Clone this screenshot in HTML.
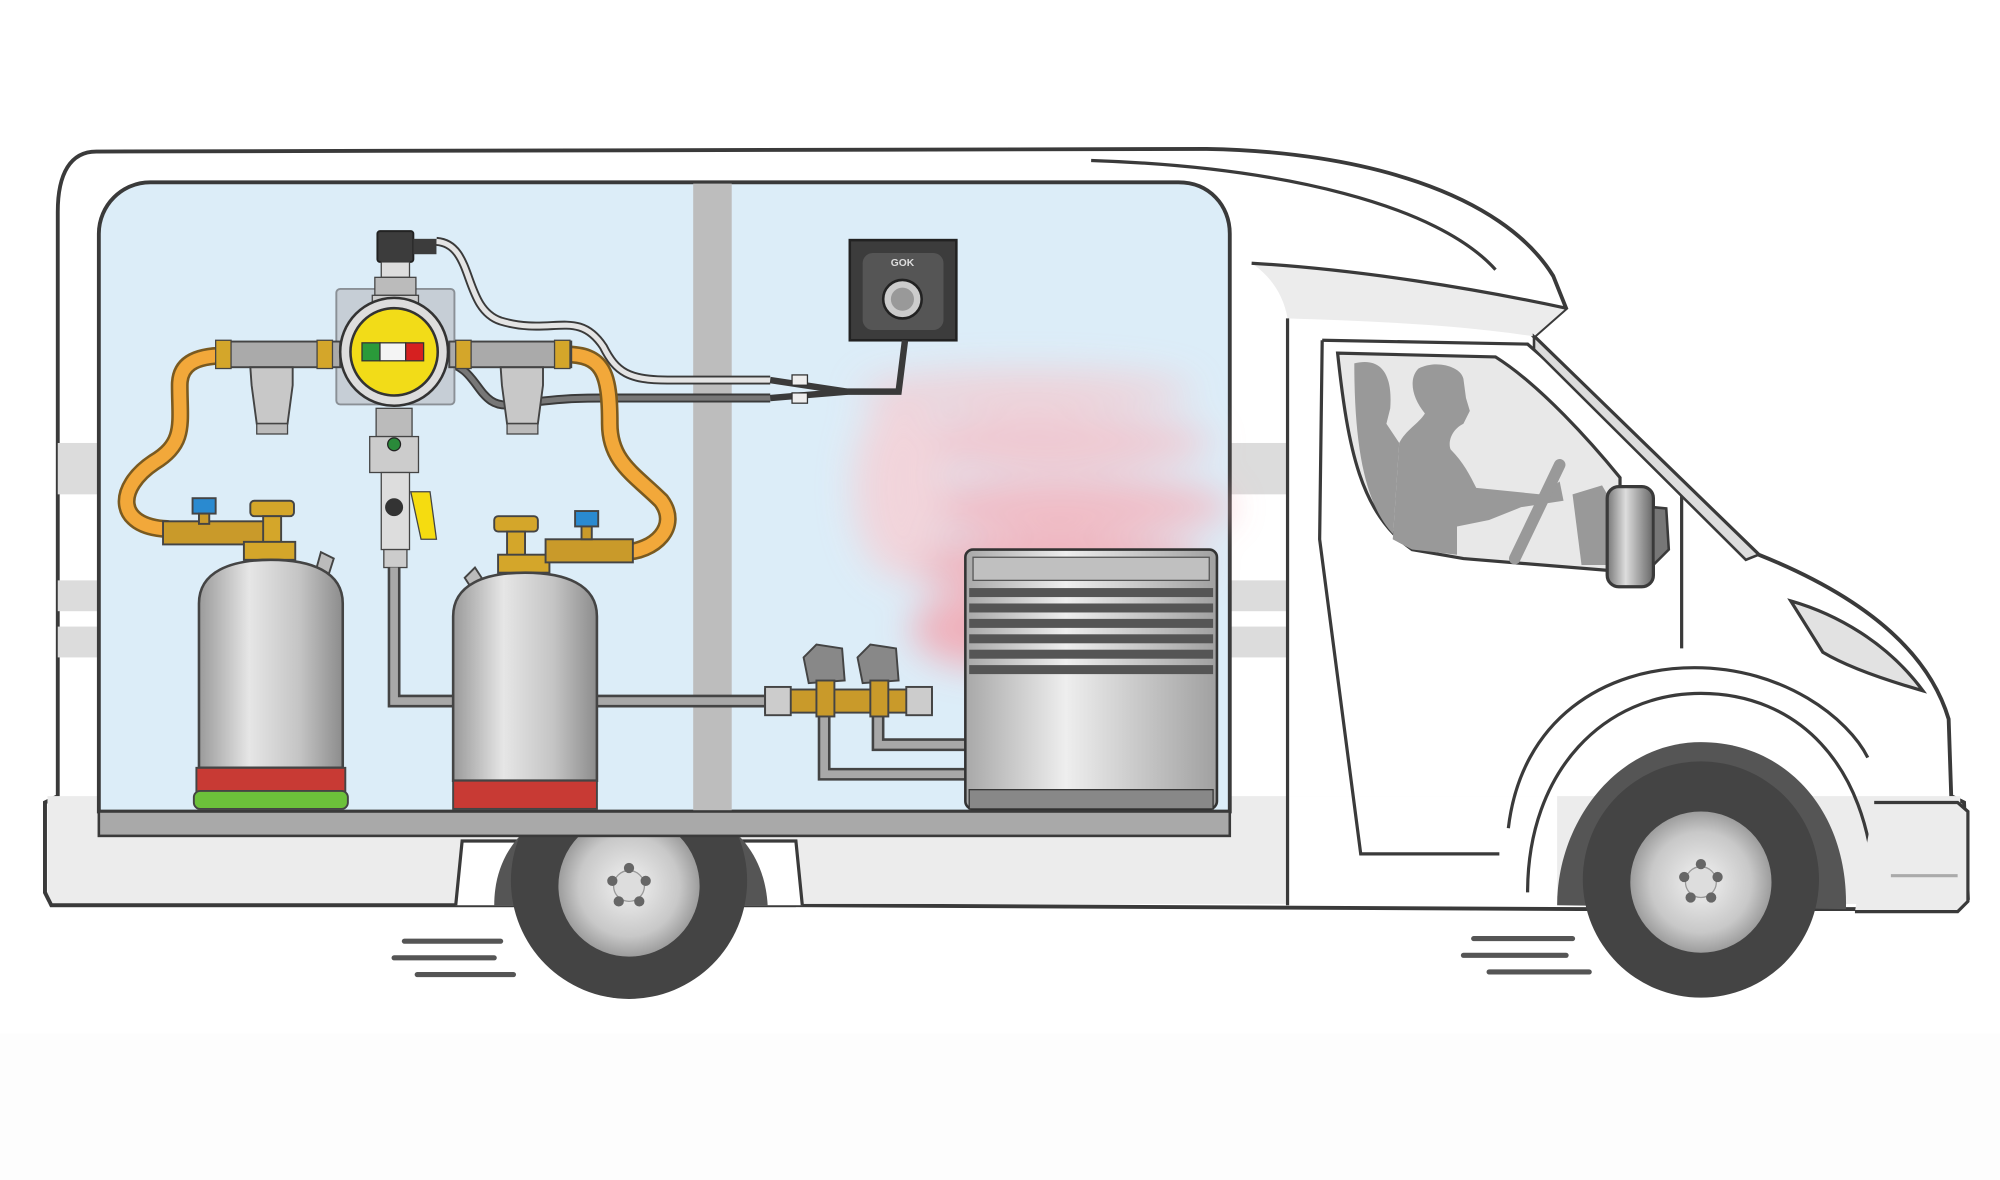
<!DOCTYPE html>
<html><head><meta charset="utf-8"><style>html,body{margin:0;padding:0;background:#fff;overflow:hidden}svg{display:block}</style></head>
<body>
<svg width="2000" height="1180" viewBox="0 0 1558 919" preserveAspectRatio="none" xmlns="http://www.w3.org/2000/svg">
<defs>
<filter id="blur" x="-50%" y="-50%" width="200%" height="200%"><feGaussianBlur stdDeviation="14"/></filter>
<linearGradient id="tank" x1="0" x2="1"><stop offset="0" stop-color="#9a9a9a"/><stop offset="0.35" stop-color="#e6e6e6"/><stop offset="0.7" stop-color="#c4c4c4"/><stop offset="1" stop-color="#8c8c8c"/></linearGradient>
<linearGradient id="box" x1="0" x2="1"><stop offset="0" stop-color="#a8a8a8"/><stop offset="0.4" stop-color="#eeeeee"/><stop offset="1" stop-color="#a0a0a0"/></linearGradient>
<radialGradient id="rim"><stop offset="0" stop-color="#f2f2f2"/><stop offset="0.7" stop-color="#c8c8c8"/><stop offset="1" stop-color="#9a9a9a"/></radialGradient>
<linearGradient id="mir" x1="0" x2="1"><stop offset="0" stop-color="#777"/><stop offset="0.4" stop-color="#ddd"/><stop offset="1" stop-color="#666"/></linearGradient>
</defs>
<rect width="1558" height="919" fill="#fff"/>
<rect y="805" width="1558" height="114" fill="#fdfdfd"/>

<path d="M75,118 L940,116 C1060,118 1170,150 1210,215 L1220,240 L1195,262 L1370,432 C1440,460 1500,500 1518,560 L1520,620 L1530,625 L1533,700 L1525,708 L1430,708 L1230,708 L620,705 L40,705 L35,695 L35,625 L45,620 L45,165 C45,135 55,118 75,118 Z" fill="#fff" stroke="#3a3a3a" stroke-width="3"/>
<path d="M850,125 C1000,130 1120,160 1165,210" fill="none" stroke="#3a3a3a" stroke-width="2.5"/>
<path d="M975,205 C1060,210 1150,225 1220,240 L1195,262 C1130,252 1060,250 1003,248 C1000,230 990,215 975,205 Z" fill="#ececec"/>
<path d="M975,205 C1060,210 1150,225 1220,240" fill="none" stroke="#3a3a3a" stroke-width="2.5"/>
<rect x="45" y="345" width="33" height="40" fill="#dcdcdc"/>
<rect x="45" y="452" width="33" height="24" fill="#dcdcdc"/>
<rect x="45" y="488" width="33" height="24" fill="#dcdcdc"/>
<rect x="957" y="345" width="46" height="40" fill="#dcdcdc"/>
<rect x="957" y="452" width="46" height="24" fill="#dcdcdc"/>
<rect x="957" y="488" width="46" height="24" fill="#dcdcdc"/>
<rect x="37" y="620" width="1490" height="84" fill="#ececec"/>
<rect x="1003" y="620" width="210" height="84" fill="#fff"/>
<path d="M35,625 L35,695 L40,705 L620,705" fill="none" stroke="#3a3a3a" stroke-width="3"/>
<path d="M1003,248 L1003,705" stroke="#3a3a3a" stroke-width="2.5"/>
<path d="M1030,265 L1190,268 C1250,320 1290,360 1310,385 L1310,505" fill="none" stroke="#3a3a3a" stroke-width="2.5"/>
<path d="M1030,265 L1028,420 L1060,665 L1168,665" fill="none" stroke="#3a3a3a" stroke-width="2.5"/>
<path d="M1195,262 L1370,432 L1360,436 L1195,272 Z" fill="#ddd" stroke="#3a3a3a" stroke-width="2"/>
<path d="M1042,275 L1165,278 C1200,300 1240,345 1262,372 L1262,445 L1140,435 L1100,428 C1060,400 1050,350 1042,275 Z" fill="#e8e8e8" stroke="#3a3a3a" stroke-width="2.5"/>
<path d="M1055,283 C1075,278 1085,290 1083,318 L1080,330 L1090,345 L1085,420 L1100,428 C1070,410 1055,370 1055,283 Z" fill="#999"/>
<path d="M1090,345 C1095,335 1105,330 1110,322 C1100,310 1097,295 1105,287 C1118,280 1138,285 1140,295 L1142,310 L1145,320 L1140,330 C1130,335 1128,345 1130,350 C1140,360 1145,370 1150,380 L1200,385 L1215,375 L1218,390 L1185,395 L1160,405 L1135,410 L1135,432 L1100,428 L1085,420 Z" fill="#999"/>
<path d="M1180,435 L1215,362" stroke="#999" stroke-width="9" stroke-linecap="round"/>
<path d="M1225,385 L1248,378 L1255,390 L1255,440 L1232,440 Z" fill="#999"/>
<rect x="1252" y="379" width="36" height="78" rx="9" fill="url(#mir)" stroke="#3a3a3a" stroke-width="2.5"/>
<path d="M1288,395 L1298,396 L1300,428 L1288,440 Z" fill="#777" stroke="#3a3a3a" stroke-width="2"/>
<path d="M1395,468 C1430,478 1470,500 1498,538 C1470,530 1440,520 1420,508 Z" fill="#e2e2e2" stroke="#3a3a3a" stroke-width="2.5"/>
<path d="M1175,645 C1185,560 1250,520 1320,520 C1390,520 1440,560 1455,590" fill="none" stroke="#3a3a3a" stroke-width="2.5"/>
<path d="M1190,695 C1190,600 1250,540 1325,540 C1400,540 1455,595 1460,690" fill="none" stroke="#3a3a3a" stroke-width="2.5"/>
<path d="M1213,705 C1213,640 1260,578 1325,578 C1390,578 1440,630 1438,708" fill="#555"/>
<path d="M1460,625 L1525,625 L1533,632 L1533,702 L1525,710 L1445,710" fill="#ececec" stroke="#3a3a3a" stroke-width="2.5"/>
<line x1="1473" y1="682" x2="1525" y2="682" stroke="#aaa" stroke-width="2.5"/>
<path d="M355,705 L360,655 L620,655 L625,705" fill="#fff" stroke="#3a3a3a" stroke-width="2.5"/>
<path d="M385,705 C385,650 430,620 490,620 C550,620 595,650 598,705" fill="#555"/>
<g>
<circle cx="490" cy="686" r="92" fill="#444"/>
<circle cx="490" cy="690" r="56" fill="url(#rim)" stroke="#444" stroke-width="2"/>
<circle cx="490" cy="690" r="12" fill="#ddd" stroke="#999"/>
<g fill="#666"><circle cx="490" cy="676" r="4"/><circle cx="503" cy="686" r="4"/><circle cx="498" cy="702" r="4"/><circle cx="482" cy="702" r="4"/><circle cx="477" cy="686" r="4"/></g>
</g>
<g>
<circle cx="1325" cy="685" r="92" fill="#444"/>
<circle cx="1325" cy="687" r="56" fill="url(#rim)" stroke="#444" stroke-width="2"/>
<circle cx="1325" cy="687" r="12" fill="#ddd" stroke="#999"/>
<g fill="#666"><circle cx="1325" cy="673" r="4"/><circle cx="1338" cy="683" r="4"/><circle cx="1333" cy="699" r="4"/><circle cx="1317" cy="699" r="4"/><circle cx="1312" cy="683" r="4"/></g>
</g>
<g stroke="#555" stroke-width="4" stroke-linecap="round">
<line x1="315" y1="733" x2="390" y2="733"/><line x1="307" y1="746" x2="385" y2="746"/><line x1="325" y1="759" x2="400" y2="759"/>
<line x1="1148" y1="731" x2="1225" y2="731"/><line x1="1140" y1="744" x2="1220" y2="744"/><line x1="1160" y1="757" x2="1238" y2="757"/>
</g>

<path d="M117,142 L918,142 C942,142 958,160 958,182 L958,632 L77,632 L77,182 C77,160 95,142 117,142 Z" fill="#dcedf8" stroke="#3a3a3a" stroke-width="3"/>
<rect x="540" y="143" width="30" height="489" fill="#bdbdbd"/>
<rect x="77" y="632" width="881" height="19" fill="#a9a9a9" stroke="#3a3a3a" stroke-width="2"/>
<g filter="url(#blur)" opacity="0.85">
<ellipse cx="800" cy="305" rx="130" ry="16" fill="#f2ccd2"/>
<ellipse cx="810" cy="345" rx="135" ry="20" fill="#f4c0c8"/>
<ellipse cx="830" cy="395" rx="130" ry="22" fill="#f4b4bd"/>
<ellipse cx="820" cy="440" rx="120" ry="22" fill="#f3aab4"/>
<ellipse cx="770" cy="490" rx="60" ry="30" fill="#f3a6b0"/>
<ellipse cx="700" cy="380" rx="35" ry="70" fill="#f5d0d6"/>
</g>

<rect x="662" y="187" width="83" height="78" fill="#3c3c3c" stroke="#222" stroke-width="2"/>
<rect x="672" y="197" width="63" height="60" rx="8" fill="#555"/>
<text x="703" y="207" font-family="Liberation Sans, sans-serif" font-size="8" font-weight="bold" fill="#ddd" text-anchor="middle">GOK</text>
<circle cx="703" cy="233" r="15" fill="#ccc" stroke="#222" stroke-width="2"/>
<circle cx="703" cy="233" r="9" fill="#999"/>
<path d="M340,188 C370,190 360,240 390,250 C430,262 450,240 470,270 C480,290 490,296 520,296 L600,296" fill="none" stroke="#3a3a3a" stroke-width="7"/>
<path d="M340,188 C370,190 360,240 390,250 C430,262 450,240 470,270 C480,290 490,296 520,296 L600,296" fill="none" stroke="#e4e4e4" stroke-width="4"/>
<path d="M345,282 C375,285 370,320 400,315 C440,310 450,310 470,310 L600,310" fill="none" stroke="#3a3a3a" stroke-width="7"/>
<path d="M345,282 C375,285 370,320 400,315 C440,310 450,310 470,310 L600,310" fill="none" stroke="#777" stroke-width="4"/>
<path d="M600,296 L660,305 L700,305 L705,265" fill="none" stroke="#3a3a3a" stroke-width="5"/>
<path d="M600,310 L660,305" fill="none" stroke="#3a3a3a" stroke-width="5"/>
<rect x="617" y="292" width="12" height="8" fill="#eee" stroke="#333"/>
<rect x="617" y="306" width="12" height="8" fill="#eee" stroke="#333"/>

<path d="M175,277 C150,277 140,285 140,300 C140,330 145,345 120,360 C90,380 90,410 130,412" fill="none" stroke="#7a5a20" stroke-width="14" stroke-linecap="round"/>
<path d="M175,277 C150,277 140,285 140,300 C140,330 145,345 120,360 C90,380 90,410 130,412" fill="none" stroke="#f2a83a" stroke-width="10" stroke-linecap="round"/>
<path d="M440,276 C470,276 475,290 475,330 C475,360 495,370 515,390 C530,410 510,430 485,430" fill="none" stroke="#7a5a20" stroke-width="14" stroke-linecap="round"/>
<path d="M440,276 C470,276 475,290 475,330 C475,360 495,370 515,390 C530,410 510,430 485,430" fill="none" stroke="#f2a83a" stroke-width="10" stroke-linecap="round"/>

<rect x="262" y="225" width="92" height="90" rx="3" fill="#c6ced6" stroke="#8a9096" stroke-width="1.5"/>
<rect x="294" y="180" width="28" height="24" rx="2" fill="#3c3c3c" stroke="#222" stroke-width="1.5"/>
<rect x="322" y="186" width="18" height="12" fill="#3c3c3c"/>
<rect x="297" y="204" width="22" height="12" fill="#ddd" stroke="#444"/>
<rect x="292" y="216" width="32" height="14" fill="#bbb" stroke="#444"/>
<rect x="290" y="230" width="36" height="12" fill="#ccc" stroke="#444"/>
<rect x="175" y="266" width="90" height="20" fill="#aaa" stroke="#444" stroke-width="1.5"/>
<rect x="168" y="265" width="12" height="22" fill="#d4a62a" stroke="#444"/>
<rect x="247" y="265" width="12" height="22" fill="#d4a62a" stroke="#444"/>
<path d="M195,286 L228,286 L228,300 L224,330 L200,330 L196,300 Z" fill="#c8c8c8" stroke="#444" stroke-width="1.5"/>
<rect x="200" y="330" width="24" height="8" fill="#bbb" stroke="#444"/>
<rect x="350" y="266" width="95" height="20" fill="#aaa" stroke="#444" stroke-width="1.5"/>
<rect x="355" y="265" width="12" height="22" fill="#d4a62a" stroke="#444"/>
<rect x="432" y="265" width="12" height="22" fill="#d4a62a" stroke="#444"/>
<path d="M390,286 L423,286 L423,300 L419,330 L395,330 L391,300 Z" fill="#c8c8c8" stroke="#444" stroke-width="1.5"/>
<rect x="395" y="330" width="24" height="8" fill="#bbb" stroke="#444"/>
<circle cx="307" cy="274" r="42" fill="#ddd" stroke="#333" stroke-width="2"/>
<circle cx="307" cy="274" r="34" fill="#f2dc18" stroke="#333" stroke-width="2"/>
<rect x="282" y="267" width="14" height="14" fill="#2a9a3a" stroke="#333"/>
<rect x="296" y="267" width="20" height="14" fill="#f4f4f4" stroke="#333"/>
<rect x="316" y="267" width="14" height="14" fill="#d62020" stroke="#333"/>
<rect x="293" y="318" width="28" height="22" fill="#bbb" stroke="#444"/>
<rect x="288" y="340" width="38" height="28" fill="#ccc" stroke="#444"/>
<circle cx="307" cy="346" r="5" fill="#2a8a3a" stroke="#222"/>
<rect x="297" y="368" width="22" height="60" fill="#ddd" stroke="#444"/>
<circle cx="307" cy="395" r="7" fill="#333"/>
<path d="M320,383 L335,383 L340,420 L328,420 Z" fill="#f5dc10" stroke="#444"/>
<rect x="299" y="428" width="18" height="14" fill="#ccc" stroke="#444"/>
<path d="M307,442 L307,546 L600,546" fill="none" stroke="#444" stroke-width="10"/>
<path d="M307,442 L307,546 L600,546" fill="none" stroke="#a8a8a8" stroke-width="6"/>
<path d="M642,555 L642,603 L752,603 M684,555 L684,580 L752,580" fill="none" stroke="#444" stroke-width="10"/>
<path d="M642,555 L642,603 L752,603 M684,555 L684,580 L752,580" fill="none" stroke="#a8a8a8" stroke-width="6"/>

<g stroke="#444" stroke-width="1.5">
<rect x="127" y="406" width="90" height="18" fill="#c99a2a"/>
<rect x="150" y="388" width="18" height="12" fill="#2a8ad0"/>
<rect x="155" y="400" width="8" height="8" fill="#c99a2a"/>
<rect x="195" y="390" width="34" height="12" rx="3" fill="#d4a62a"/>
<rect x="205" y="402" width="14" height="32" fill="#d4a62a"/>
<rect x="190" y="422" width="40" height="14" fill="#d4a62a"/>
<rect x="385" y="402" width="34" height="12" rx="3" fill="#d4a62a"/>
<rect x="395" y="414" width="14" height="32" fill="#d4a62a"/>
<rect x="388" y="432" width="40" height="14" fill="#d4a62a"/>
<rect x="425" y="420" width="68" height="18" fill="#c99a2a"/>
<rect x="448" y="398" width="18" height="12" fill="#2a8ad0"/>
<rect x="453" y="410" width="8" height="10" fill="#c99a2a"/>
</g>
<path d="M245,448 L250,430 L260,435 L252,460 Z" fill="#bbb" stroke="#444" stroke-width="1.5"/>
<path d="M155,470 C155,445 180,436 211,436 C242,436 267,445 267,470 L267,598 L155,598 Z" fill="url(#tank)" stroke="#444" stroke-width="2"/>
<rect x="153" y="598" width="116" height="20" fill="#c83a34" stroke="#444" stroke-width="1.5"/>
<rect x="151" y="616" width="120" height="14" rx="5" fill="#6cc13a" stroke="#444" stroke-width="1.5"/>
<path d="M362,450 L370,442 L383,462 L375,470 Z" fill="#bbb" stroke="#444" stroke-width="1.5"/>
<path d="M353,480 C353,455 378,446 409,446 C440,446 465,455 465,480 L465,608 L353,608 Z" fill="url(#tank)" stroke="#444" stroke-width="2"/>
<rect x="353" y="608" width="112" height="22" fill="#c83a34" stroke="#444" stroke-width="1.5"/>

<g stroke="#444" stroke-width="1.5">
<rect x="596" y="537" width="130" height="18" fill="#c99a2a"/>
<rect x="596" y="535" width="20" height="22" fill="#ccc"/>
<rect x="706" y="535" width="20" height="22" fill="#ccc"/>
<path d="M626,512 L636,502 L656,505 L658,530 L630,532 Z" fill="#888"/>
<path d="M668,512 L678,502 L698,505 L700,530 L672,532 Z" fill="#888"/>
<rect x="636" y="530" width="14" height="28" fill="#c99a2a"/>
<rect x="678" y="530" width="14" height="28" fill="#c99a2a"/>
</g>

<rect x="752" y="428" width="196" height="202" rx="6" fill="url(#box)" stroke="#333" stroke-width="2"/>
<rect x="758" y="434" width="184" height="18" fill="#c0c0c0" stroke="#555"/>
<g fill="#555">
<rect x="755" y="458" width="190" height="7"/><rect x="755" y="470" width="190" height="7"/><rect x="755" y="482" width="190" height="7"/><rect x="755" y="494" width="190" height="7"/><rect x="755" y="506" width="190" height="7"/><rect x="755" y="518" width="190" height="7"/>
</g>
<rect x="755" y="615" width="190" height="15" fill="#888" stroke="#333"/>
</svg>
</body></html>
